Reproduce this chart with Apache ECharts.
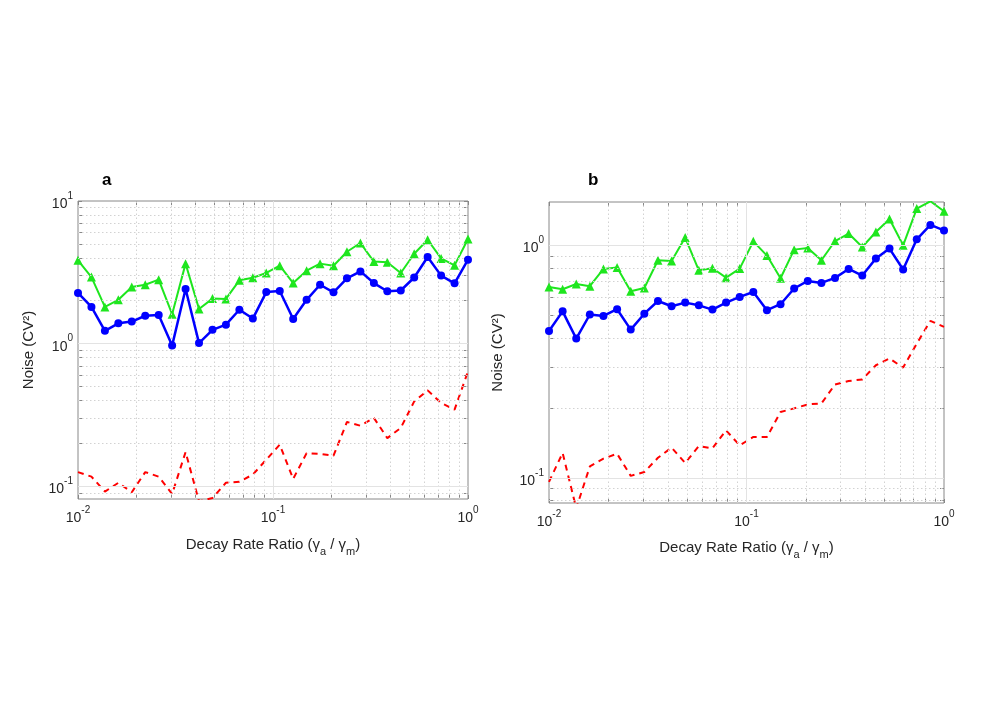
<!DOCTYPE html>
<html><head><meta charset="utf-8">
<script src="https://cdn.jsdelivr.net/npm/echarts@6/dist/echarts.min.js"></script>
<style>html,body{margin:0;padding:0;background:#fff}#c{width:997px;height:704px}</style>
</head><body><div id="c"></div>
<script>
// Decay rate ratio samples (x)
const ratio = [0.01, 0.01172, 0.01374, 0.01610, 0.01887, 0.02212, 0.02593, 0.03039, 0.03562, 0.04175,
  0.04894, 0.05736, 0.06723, 0.07881, 0.09237, 0.1083, 0.1269, 0.1487, 0.1743, 0.2043,
  0.2395, 0.2807, 0.3290, 0.3857, 0.4520, 0.5298, 0.6210, 0.7279, 0.8532, 1.0];

// Panel a
const aBlue = [2.27, 1.81, 1.23, 1.39, 1.43, 1.57, 1.59, 0.97, 2.42, 1.01,
  1.25, 1.36, 1.73, 1.50, 2.30, 2.34, 1.49, 2.03, 2.59, 2.29,
  2.87, 3.21, 2.66, 2.33, 2.36, 2.91, 4.05, 3.00, 2.65, 3.88];
const aGreen = [3.84, 2.93, 1.81, 2.03, 2.50, 2.59, 2.81, 1.61, 3.64, 1.75,
  2.07, 2.06, 2.78, 2.90, 3.13, 3.52, 2.66, 3.25, 3.64, 3.52,
  4.41, 5.08, 3.76, 3.72, 3.13, 4.27, 5.35, 3.96, 3.54, 5.42];
const aRed = [0.126, 0.117, 0.092, 0.106, 0.091, 0.126, 0.117, 0.0885, 0.174, 0.0785,
  0.083, 0.106, 0.108, 0.121, 0.154, 0.196, 0.113, 0.171, 0.169, 0.164,
  0.283, 0.266, 0.302, 0.218, 0.257, 0.394, 0.471, 0.384, 0.345, 0.64];

// Panel b
const bBlue = [0.428, 0.520, 0.397, 0.504, 0.497, 0.531, 0.434, 0.508, 0.576, 0.547,
  0.567, 0.552, 0.529, 0.567, 0.600, 0.630, 0.526, 0.558, 0.652, 0.703,
  0.689, 0.724, 0.791, 0.741, 0.877, 0.968, 0.787, 1.061, 1.223, 1.159];
const bGreen = [0.662, 0.647, 0.682, 0.667, 0.791, 0.802, 0.634, 0.655, 0.862, 0.856,
  1.079, 0.781, 0.797, 0.726, 0.794, 1.040, 0.903, 0.722, 0.958, 0.974,
  0.862, 1.043, 1.123, 0.983, 1.141, 1.297, 1.000, 1.438, 1.546, 1.400];
const bRed = [0.0962, 0.128, 0.074, 0.112, 0.121, 0.127, 0.102, 0.106, 0.122, 0.135,
  0.116, 0.137, 0.134, 0.160, 0.138, 0.150, 0.150, 0.192, 0.199, 0.207,
  0.209, 0.252, 0.261, 0.265, 0.305, 0.326, 0.298, 0.378, 0.473, 0.446];

const panelTitles = ['a', 'b'];
const xLabel = '{n|Decay Rate Ratio (γ}{sub|a}{n| / γ}{sub|m}{n|)}';
const yLabel = 'Noise (CV²)';
const xMajor = [0.1];
const xMinor = [0.02,0.03,0.04,0.05,0.06,0.07,0.08,0.09,0.2,0.3,0.4,0.5,0.6,0.7,0.8,0.9];
const xTickVals = [0.01,0.02,0.03,0.04,0.05,0.06,0.07,0.08,0.09,0.1,0.2,0.3,0.4,0.5,0.6,0.7,0.8,0.9,1];
const aYMajor = [0.1, 1];
const aYMinor = [0.09,0.2,0.3,0.4,0.5,0.6,0.7,0.8,0.9,2,3,4,5,6,7,8,9];
const aYTickVals = [0.09,0.1,0.2,0.3,0.4,0.5,0.6,0.7,0.8,0.9,1,2,3,4,5,6,7,8,9,10];
const bYMajor = [0.1, 1];
const bYMinor = [0.08,0.09,0.2,0.3,0.4,0.5,0.6,0.7,0.8,0.9];
const bYTickVals = [0.08,0.09,0.1,0.2,0.3,0.4,0.5,0.6,0.7,0.8,0.9,1];

const FONT = 'Liberation Sans, Arial, Helvetica, sans-serif';
const pair = (ys) => ys.map((v, i) => [ratio[i], v]);

function powLabel(v) {
  const e = Math.log10(v);
  const r = Math.round(e);
  if (Math.abs(e - r) > 1e-6) return '';
  return '{b|10}{s|' + r + '}';
}
const labelRich = {
  b: { fontSize: 14, fontFamily: FONT, color: '#262626', lineHeight: 20, verticalAlign: 'bottom' },
  s: { fontSize: 10, fontFamily: FONT, color: '#262626', lineHeight: 12, verticalAlign: 'top' }
};
const tickStyle = (vals) => ({ show: true, inside: true, length: 4, customValues: vals, lineStyle: { color: '#888', width: 1 } });

const grids = [
  { left: 78, top: 201, width: 390, height: 298, show: true, borderColor: '#888', borderWidth: 1, backgroundColor: 'transparent' },
  { left: 549, top: 202, width: 395, height: 301, show: true, borderColor: '#888', borderWidth: 1, backgroundColor: 'transparent' }
];

function xAxis(gi, nameGap) {
  return {
    type: 'log', logBase: 10, gridIndex: gi, min: 0.01, max: 1, position: 'bottom',
    axisLine: { show: false }, axisTick: tickStyle(xTickVals), splitLine: { show: false },
    axisLabel: { formatter: powLabel, rich: labelRich, margin: 6, showMinLabel: true, showMaxLabel: true },
    name: xLabel, nameLocation: 'middle', nameGap: nameGap,
    nameTextStyle: { rich: {
      n: { fontSize: 15, fontFamily: FONT, color: '#262626', lineHeight: 20, verticalAlign: 'top' },
      sub: { fontSize: 11, fontFamily: FONT, color: '#262626', lineHeight: 12, verticalAlign: 'bottom' }
    } }
  };
}
function xAxisTop(gi) {
  return {
    type: 'log', logBase: 10, gridIndex: gi, min: 0.01, max: 1, position: 'top',
    axisLine: { show: false }, axisTick: tickStyle(xTickVals), splitLine: { show: false },
    axisLabel: { show: false }
  };
}
function yAxis(gi, min, max, nameGap, ticks) {
  return {
    type: 'log', logBase: 10, gridIndex: gi, min: min, max: max, position: 'left',
    axisLine: { show: false }, axisTick: tickStyle(ticks), splitLine: { show: false },
    axisLabel: { formatter: powLabel, rich: labelRich, margin: 5 },
    name: yLabel, nameLocation: 'middle', nameGap: nameGap,
    nameTextStyle: { fontSize: 15, fontFamily: FONT, color: '#262626' }
  };
}
function yAxisRight(gi, min, max, ticks) {
  return {
    type: 'log', logBase: 10, gridIndex: gi, min: min, max: max, position: 'right',
    axisLine: { show: false }, axisTick: tickStyle(ticks), splitLine: { show: false },
    axisLabel: { show: false }
  };
}

function gridSeries(gi, yMajor, yMinor) {
  const major = { type: 'solid', color: '#e3e3e3', width: 1 };
  const minor = { type: [1.5, 2.5], color: '#d2d2d2', width: 1 };
  const d = [];
  xMinor.forEach(v => d.push({ xAxis: v, lineStyle: minor }));
  yMinor.forEach(v => d.push({ yAxis: v, lineStyle: minor }));
  xMajor.forEach(v => d.push({ xAxis: v, lineStyle: major }));
  yMajor.forEach(v => d.push({ yAxis: v, lineStyle: major }));
  return {
    type: 'line', xAxisIndex: gi, yAxisIndex: gi, data: [], silent: true, z: 1,
    markLine: { silent: true, symbol: ['none', 'none'], label: { show: false }, animation: false, data: d }
  };
}

function lines(gi, blue, green, red) {
  return [
    { type: 'line', xAxisIndex: gi, yAxisIndex: gi, data: pair(red), symbol: 'none', z: 3,
      lineStyle: { color: '#ff0000', width: 2, type: [6, 5] } },
    { type: 'line', xAxisIndex: gi, yAxisIndex: gi, data: pair(green), symbol: 'triangle', symbolSize: 9, z: 4,
      lineStyle: { color: '#1ee61e', width: 2 }, itemStyle: { color: '#1ee61e' } },
    { type: 'line', xAxisIndex: gi, yAxisIndex: gi, data: pair(blue), symbol: 'circle', symbolSize: 8, z: 5,
      lineStyle: { color: '#0000ff', width: 2.5 }, itemStyle: { color: '#0000ff' } }
  ];
}

const chart = echarts.init(document.getElementById('c'), null, { renderer: 'canvas' });
chart.setOption({
  animation: false,
  backgroundColor: '#fff',
  title: [
    { text: panelTitles[0], left: 97, top: 167, textStyle: { fontSize: 17, fontWeight: 'bold', fontFamily: FONT, color: '#000' } },
    { text: panelTitles[1], left: 583, top: 167, textStyle: { fontSize: 17, fontWeight: 'bold', fontFamily: FONT, color: '#000' } }
  ],
  grid: grids,
  xAxis: [xAxis(0, 38), xAxis(1, 37), xAxisTop(0), xAxisTop(1)],
  yAxis: [yAxis(0, 0.0816, 10, 42, aYTickVals), yAxis(1, 0.078, 1.535, 44, bYTickVals),
          yAxisRight(0, 0.0816, 10, aYTickVals), yAxisRight(1, 0.078, 1.535, bYTickVals)],
  series: [
    gridSeries(0, aYMajor, aYMinor),
    gridSeries(1, bYMajor, bYMinor),
    ...lines(0, aBlue, aGreen, aRed),
    ...lines(1, bBlue, bGreen, bRed)
  ]
});
</script></body></html>
